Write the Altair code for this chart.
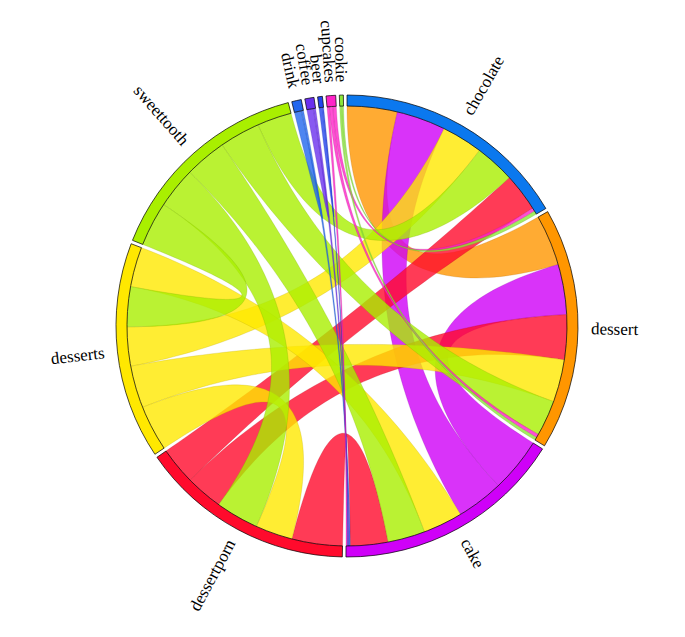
import math
import altair as alt

# ---------------- data ----------------
groups = ["chocolate", "dessert", "cake", "dessertporn", "desserts", "sweettooth",
          "drink", "coffee", "beer", "cupcakes", "cookie"]
colors = ["#0b78ee", "#ff9600", "#cf00f8", "#ff0a2c", "#ffe800", "#a9ef00",
          "#2266ee", "#6a30ee", "#2244ee", "#ff22c8", "#8be838"]

# ordered subgroups of every group: (partner, value); a group paired with itself is a self-loop
chocolate = [("dessert", 13.2), ("cake", 12.9), ("desserts", 10.8), ("sweettooth", 10.5),
             ("dessertporn", 10.0), ("cupcakes", 0.9), ("cookie", 0.9)]
dessert = [("chocolate", 13.4), ("cake", 13.2), ("dessertporn", 11.8), ("desserts", 11.2),
           ("sweettooth", 9.4), ("cupcakes", 0.9), ("cookie", 0.8)]
cake = [("dessert", 14.3), ("chocolate", 12.4), ("desserts", 10.4), ("sweettooth", 9.8),
        ("dessertporn", 9.9), ("drink", 0.3), ("coffee", 0.3), ("beer", 0.2), ("cupcakes", 0.3)]
dessertporn = [("cake", 13.3), ("desserts", 9.8), ("sweettooth", 11.3), ("dessert", 9.8),
               ("chocolate", 9.8)]
desserts = [("dessertporn", 12.0), ("dessert", 11.1), ("chocolate", 10.3), ("sweettooth", 10.5),
            ("cake", 10.5)]
sweettooth = [("desserts", 11.7), ("dessertporn", 10.8), ("cake", 11.0), ("dessert", 10.7),
              ("chocolate", 9.1)]
drink = [("drink", 1.8), ("cake", 0.6)]
coffee = [("coffee", 1.7), ("cake", 0.6)]
beer = [("beer", 0.9), ("cake", 0.3)]
cupcakes = [("cake", 0.6), ("dessert", 0.9), ("chocolate", 0.9)]
cookie = [("dessert", 0.5), ("chocolate", 0.5)]

links = [chocolate, dessert, cake, dessertporn, desserts, sweettooth,
         drink, coffee, beer, cupcakes, cookie]

# ---------------- layout (chord layout like d3.chord) ----------------
PAD = math.radians(0.9)
R_IN, R_OUT, R_LABEL = 220, 231, 244
CX, CY = 339, 318
n = len(groups)
total = sum(v for g in links for _, v in g)
k = (2 * math.pi - n * PAD) / total

group_rows, slots = [], {}
ang = 0.0
for i, g in enumerate(links):
    g0 = ang
    for partner, v in g:
        slots[(i, groups.index(partner))] = (ang, ang + v * k)
        ang += v * k
    group_rows.append({"name": groups[i], "a0": g0, "a1": ang, "color": colors[i],
                       "mid": (g0 + ang) / 2})
    ang += PAD


def pt(a, r=R_IN):
    return [r * math.sin(a), -r * math.cos(a)]


def arc_pts(a0, a1, steps=40):
    return [pt(a0 + (a1 - a0) * s / steps) for s in range(steps + 1)]


def quad_pts(p0, p2, steps=60):
    out = []
    for s in range(1, steps):
        t = s / steps
        out.append([(1 - t) ** 2 * p0[0] + t * t * p2[0], (1 - t) ** 2 * p0[1] + t * t * p2[1]])
    return out


def darker(hexc, f=0.7):
    r, g, b = (int(hexc[i:i + 2], 16) for i in (1, 3, 5))
    return "#%02x%02x%02x" % (int(r * f), int(g * f), int(b * f))


features = []
for i in range(n):
    for j in range(i, n):
        if (i, j) not in slots or (j, i) not in slots:
            continue
        sa0, sa1 = slots[(i, j)]
        if i == j:
            ring = arc_pts(sa0, sa1) + quad_pts(pt(sa1), pt(sa0))
        else:
            ta0, ta1 = slots[(j, i)]
            ring = (arc_pts(sa0, sa1) + quad_pts(pt(sa1), pt(ta0))
                    + arc_pts(ta0, ta1) + quad_pts(pt(ta1), pt(sa0)))
        ring.append(ring[0])
        c = colors[max(i, j)]
        features.append({"type": "Feature",
                         "properties": {"color": c, "stroke": darker(c)},
                         "geometry": {"type": "Polygon", "coordinates": [ring]}})

for row in group_rows:
    deg = math.degrees(row["mid"])
    if row["mid"] < math.pi:
        row["rot"] = (deg - 90) % 360
        row["side"] = "right"
    else:
        row["rot"] = (deg - 270) % 360
        row["side"] = "left"

groups_data = alt.Data(values=group_rows)

# ---------------- chart ----------------
chords = alt.Chart(alt.Data(values=features)).mark_geoshape(
    fillOpacity=0.8, strokeWidth=0.8, strokeOpacity=0.3
).encode(
    fill=alt.Fill("properties.color:N", scale=None),
    stroke=alt.Stroke("properties.stroke:N", scale=None),
).project(type="identity", scale=1, translate=[CX, CY])

ring = alt.Chart(groups_data).mark_arc(
    radius=R_OUT, radius2=R_IN, stroke="#000", strokeWidth=0.7
).encode(
    theta=alt.Theta("a0:Q", scale=None),
    theta2=alt.Theta2("a1:Q"),
    fill=alt.Fill("color:N", scale=None),
    x=alt.value(CX), y=alt.value(CY),
)

label_base = alt.Chart(groups_data)
labels_right = label_base.mark_text(
    radius=R_LABEL, align="left", baseline="middle", font="Liberation Serif", fontSize=17, color="#000"
).encode(
    theta=alt.Theta("mid:Q", scale=None),
    angle=alt.Angle("rot:Q", scale=None),
    text="name:N",
    x=alt.value(CX), y=alt.value(CY),
).transform_filter(alt.datum.side == "right")

labels_left = label_base.mark_text(
    radius=R_LABEL, align="right", baseline="middle", font="Liberation Serif", fontSize=17, color="#000"
).encode(
    theta=alt.Theta("mid:Q", scale=None),
    angle=alt.Angle("rot:Q", scale=None),
    text="name:N",
    x=alt.value(CX), y=alt.value(CY),
).transform_filter(alt.datum.side == "left")

chart = alt.layer(chords, ring, labels_right, labels_left).properties(
    width=665, height=615, padding=0
).configure_view(stroke=None)

chart.save("out.html", embed_options={"renderer": "svg", "actions": False})
